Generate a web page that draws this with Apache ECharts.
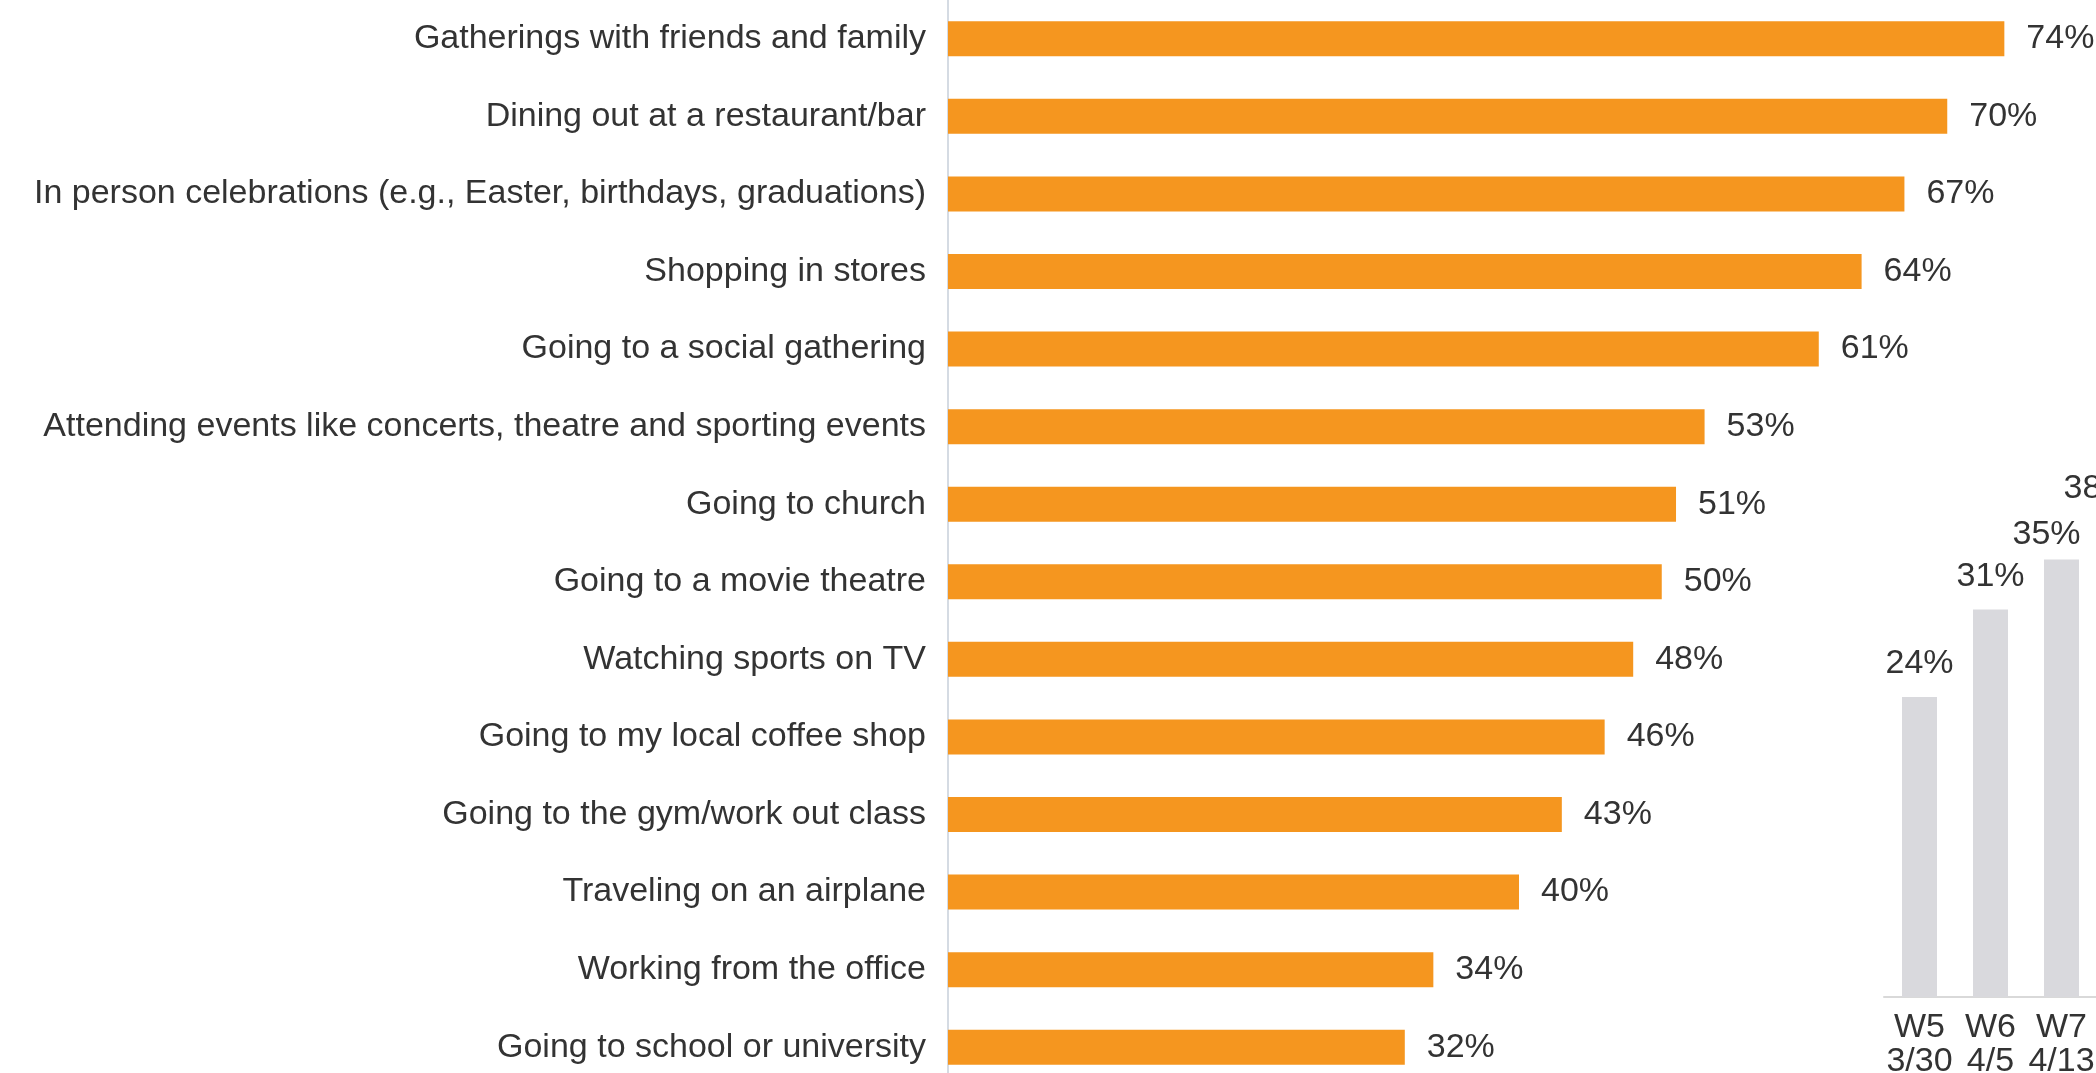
<!DOCTYPE html>
<html>
<head>
<meta charset="utf-8">
<title>Activities people miss</title>
<script src="https://cdn.jsdelivr.net/npm/echarts@6/dist/echarts.min.js"></script>
<style>
  html, body { margin: 0; padding: 0; background: #fff; width: 2096px; height: 1073px; overflow: hidden; }
  /* the canvas runs past the window so the trend panel and the last row are cut at the edge */
  #chart { width: 2200px; height: 1120px; }
</style>
</head>
<body>
<div id="chart"></div>
<script>
// Activities, top to bottom
const activities = [
  'Gatherings with friends and family',
  'Dining out at a restaurant/bar',
  'In person celebrations (e.g., Easter, birthdays, graduations)',
  'Shopping in stores',
  'Going to a social gathering',
  'Attending events like concerts, theatre and sporting events',
  'Going to church',
  'Going to a movie theatre',
  'Watching sports on TV',
  'Going to my local coffee shop',
  'Going to the gym/work out class',
  'Traveling on an airplane',
  'Working from the office',
  'Going to school or university'
];
const activityShares = [74, 70, 67, 64, 61, 53, 51, 50, 48, 46, 43, 40, 34, 32];

// Weekly trend
const waves = ['W5\n3/30', 'W6\n4/5', 'W7\n4/13', 'W8\n4/19'];
const waveShares = [24, 31, 35, 38];

const FONT = '"Liberation Sans", Arial, sans-serif';
const TEXT = '#333333';

// label nudges for the two rightmost trend bars
const waveLabelOffsets = { 2: [-15, 8], 3: [-35, 0] };

const chart = echarts.init(document.getElementById('chart'), null, { renderer: 'canvas' });

chart.setOption({
  animation: false,
  backgroundColor: '#ffffff',
  textStyle: { fontFamily: FONT },
  grid: [
    { left: 948, top: 0, width: 1142, height: 1086, containLabel: false },
    { left: 1884, top: 497, width: 284, height: 500, containLabel: false }
  ],
  xAxis: [
    { gridIndex: 0, type: 'value', min: 0, max: 80, show: false },
    {
      gridIndex: 1, type: 'category', data: waves,
      axisLine: { show: true, lineStyle: { color: '#d9d9d9', width: 2 } },
      axisTick: { show: false },
      axisLabel: {
        interval: 0, margin: 14, fontSize: 34, lineHeight: 34, color: TEXT, fontFamily: FONT
      }
    }
  ],
  yAxis: [
    {
      gridIndex: 0, type: 'category', data: activities, inverse: true,
      axisLine: { show: true, lineStyle: { color: '#d5dbe3', width: 2 } },
      axisTick: { show: false },
      axisLabel: { interval: 0, margin: 22, fontSize: 34, color: TEXT, fontFamily: FONT }
    },
    { gridIndex: 1, type: 'value', min: 0, max: 40, show: false }
  ],
  series: [
    {
      type: 'bar',
      xAxisIndex: 0, yAxisIndex: 0,
      data: activityShares,
      barWidth: 35,
      itemStyle: { color: '#f5961f' },
      label: {
        show: true, position: 'right', distance: 22,
        formatter: '{c}%', fontSize: 34, color: TEXT, fontFamily: FONT
      }
    },
    {
      type: 'bar',
      xAxisIndex: 1, yAxisIndex: 1,
      data: waveShares.map((v, i) => waveLabelOffsets[i]
        ? { value: v, label: { offset: waveLabelOffsets[i] } }
        : v),
      barWidth: 35,
      itemStyle: { color: '#d9d9dd' },
      label: {
        show: true, position: 'top', distance: 16,
        formatter: '{c}%', fontSize: 34, color: TEXT, fontFamily: FONT
      }
    }
  ]
});
</script>
</body>
</html>
